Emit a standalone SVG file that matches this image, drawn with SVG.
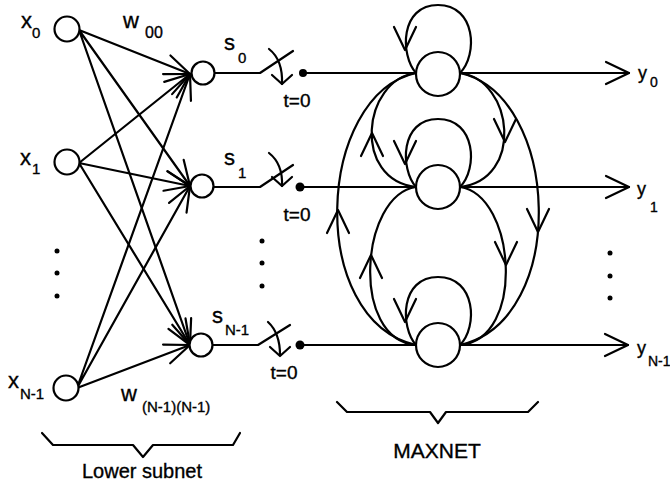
<svg xmlns="http://www.w3.org/2000/svg" xmlns:xlink="http://www.w3.org/1999/xlink" width="670" height="486" viewBox="0 0 670 486">
<style>
  .ln { fill: none; stroke: #000; stroke-width: 2.2; stroke-linecap: round; stroke-linejoin: round; }
  .nd { fill: #fff; stroke: #000; stroke-width: 2.2; }
  .dot { fill: #000; }
  text { font-family: "Liberation Sans", Arial, sans-serif; fill: #000; stroke: #000; stroke-width: 0.35; }
  .m { font-size: 22px; }
  .sub { font-size: 15px; }
  .y { font-size: 18px; }
  .ysub { font-size: 14px; }
  .t { font-size: 19px; text-anchor: middle; }
  .cap { font-size: 20px; text-anchor: middle; }
</style>
<defs>
  <path id="ahs" class="ln" d="M -25 -10 L 0 0 L -25 10"/>
  <path id="ah" class="ln" d="M -23 -11 L 0 0 L -23 11"/>
</defs>
<rect width="670" height="486" fill="#fff"/>

<g id="connectors">
  <!-- lower subnet edges -->
  <path class="ln" d="M 79 30 L 190 74 M 79 30 L 190 186 M 79 30 L 190 345"/>
  <path class="ln" d="M 79 163 L 190 74 M 79 163 L 190 186 M 79 163 L 190 345"/>
  <path class="ln" d="M 77 388 L 190 74 M 77 388 L 190 186 M 77 388 L 190 345"/>
  <use href="#ahs" transform="translate(190,74) rotate(21.6)"/>
  <use href="#ahs" transform="translate(190,186) rotate(54.6)"/>
  <use href="#ahs" transform="translate(190,345) rotate(70.6)"/>
  <use href="#ahs" transform="translate(190,74) rotate(-38.7)"/>
  <use href="#ahs" transform="translate(190,186) rotate(11.7)"/>
  <use href="#ahs" transform="translate(190,345) rotate(58.6)"/>
  <use href="#ahs" transform="translate(190,74) rotate(-70.2)"/>
  <use href="#ahs" transform="translate(190,186) rotate(-60.8)"/>
  <use href="#ahs" transform="translate(190,345) rotate(-20.8)"/>

  <!-- switches -->
  <path class="ln" d="M 214 73 L 260 73 L 293 51"/>
  <path class="ln" d="M 269 49 Q 283 60 282 84"/>
  <path class="ln" d="M 272 75 L 282 84 L 292 75"/>
  <path class="ln" d="M 214 187 L 260 187 L 293 165"/>
  <path class="ln" d="M 269 153 Q 283 164 282 186"/>
  <path class="ln" d="M 272 177 L 282 186 L 292 177"/>
  <path class="ln" d="M 213 345 L 258 345 L 290 325"/>
  <path class="ln" d="M 268 322 Q 280 333 280 355"/>
  <path class="ln" d="M 270 347 L 280 356 L 290 347"/>

  <!-- lines to MAXNET -->
  <path class="ln" d="M 303 73 L 416 73 M 300 187 L 416 187 M 300 345 L 416 345"/>
  <!-- outputs -->
  <path class="ln" d="M 460 73 L 629 73 M 460 187 L 629 187 M 460 345 L 628 345"/>
  <use href="#ah" transform="translate(629,73)"/>
  <use href="#ah" transform="translate(629,187)"/>
  <use href="#ah" transform="translate(628,345)"/>

  <!-- self loops -->
  <path class="ln" d="M 416 73 C 400 55, 400 5, 438 5 C 476 5, 478 55, 460 73"/>
  <path class="ln" d="M 416 187 C 400 169, 400 119, 438 119 C 476 119, 478 169, 460 187"/>
  <path class="ln" d="M 416 345 C 400 327, 400 277, 438 277 C 476 277, 478 327, 460 345"/>
  <use href="#ah" transform="translate(405,50) rotate(90)"/>
  <use href="#ah" transform="translate(405,164) rotate(90)"/>
  <use href="#ah" transform="translate(405,322) rotate(90)"/>

  <!-- lateral connections left (upward) -->
  <path class="ln" d="M 416 73 C 362 80, 352 180, 416 187"/>
  <path class="ln" d="M 416 187 C 360 195, 350 340, 416 345"/>
  <path class="ln" d="M 416 73 C 316 95, 306 320, 416 345"/>
  <use href="#ah" transform="translate(372,133) rotate(-90)"/>
  <use href="#ah" transform="translate(371,255) rotate(-90)"/>
  <use href="#ah" transform="translate(338,210) rotate(-90)"/>

  <!-- lateral connections right (downward) -->
  <path class="ln" d="M 460 73 C 514 80, 524 180, 460 187"/>
  <path class="ln" d="M 460 187 C 516 195, 526 340, 460 345"/>
  <path class="ln" d="M 460 73 C 560 95, 570 320, 460 345"/>
  <use href="#ah" transform="translate(505,142) rotate(90)"/>
  <use href="#ah" transform="translate(506,265) rotate(90)"/>
  <use href="#ah" transform="translate(538,232) rotate(90)"/>

  <!-- braces -->
  <path class="ln" d="M 42 433 L 53 445 L 133 445 L 143 457 L 153 445 L 233 445 L 240 433"/>
  <path class="ln" d="M 337 402 L 347 412 L 430 412 L 438 423 L 446 412 L 528 412 L 538 402"/>
</g>

<g id="x0"><circle class="nd" cx="67" cy="29" r="12.5"/><text class="m" x="21" y="28">x</text><text class="sub" x="32" y="38">0</text></g>
<g id="x1"><circle class="nd" cx="67" cy="162" r="12.5"/><text class="m" x="20" y="165">x</text><text class="sub" x="32" y="174">1</text></g>
<g id="xN1"><circle class="nd" cx="66" cy="388" r="12.5"/><text class="m" x="8" y="388">x</text><text class="sub" x="20" y="399">N-1</text></g>

<g id="s0"><circle class="nd" cx="203" cy="73" r="11.5"/><text class="m" x="224" y="50">s</text><text class="sub" x="238" y="63">0</text></g>
<g id="s1"><circle class="nd" cx="202" cy="186" r="11.5"/><text class="m" x="224" y="165">s</text><text class="sub" x="238" y="178">1</text></g>
<g id="sN1"><circle class="nd" cx="201" cy="345" r="11.5"/><text class="m" x="212" y="323">s</text><text class="sub" x="225" y="335">N-1</text></g>

<g id="w-labels">
  <text class="m" x="123" y="28">w</text><text style="font-size:16px" x="145" y="38">00</text>
  <text class="m" x="121" y="401">w</text><text class="sub" x="142" y="412">(N-1)(N-1)</text>
</g>

<g id="switch-contacts">
  <circle class="dot" cx="303" cy="73" r="4"/>
  <circle class="dot" cx="300" cy="187" r="4.5"/>
  <circle class="dot" cx="300" cy="345" r="4.5"/>
  <text class="t" x="297" y="107">t=0</text>
  <text class="t" x="297" y="221">t=0</text>
  <text class="t" x="284" y="379">t=0</text>
</g>

<g id="m0"><circle class="nd" cx="438" cy="74" r="22"/></g>
<g id="m1"><circle class="nd" cx="438" cy="187" r="22"/></g>
<g id="mN1"><circle class="nd" cx="438" cy="345" r="22"/></g>

<g id="outputs">
  <text class="y" x="638" y="79">y</text><text class="ysub" x="650" y="87">0</text>
  <text class="y" x="637" y="195">y</text><text class="ysub" x="650" y="212">1</text>
  <text class="y" x="637" y="354">y</text><text class="ysub" x="648" y="366">N-1</text>
</g>

<g id="ellipsis">
  <circle class="dot" cx="57" cy="251" r="2.5"/><circle class="dot" cx="57" cy="273" r="2.5"/><circle class="dot" cx="57" cy="296" r="2.5"/>
  <circle class="dot" cx="262" cy="241" r="2.5"/><circle class="dot" cx="262" cy="263" r="2.5"/><circle class="dot" cx="262" cy="286" r="2.5"/>
  <circle class="dot" cx="610" cy="253" r="2.5"/><circle class="dot" cx="610" cy="276" r="2.5"/><circle class="dot" cx="610" cy="298" r="2.5"/>
</g>

<g id="captions">
  <text class="cap" x="142" y="478">Lower subnet</text>
  <text class="cap" x="437" y="458" style="font-size:21px">MAXNET</text>
</g>
</svg>
